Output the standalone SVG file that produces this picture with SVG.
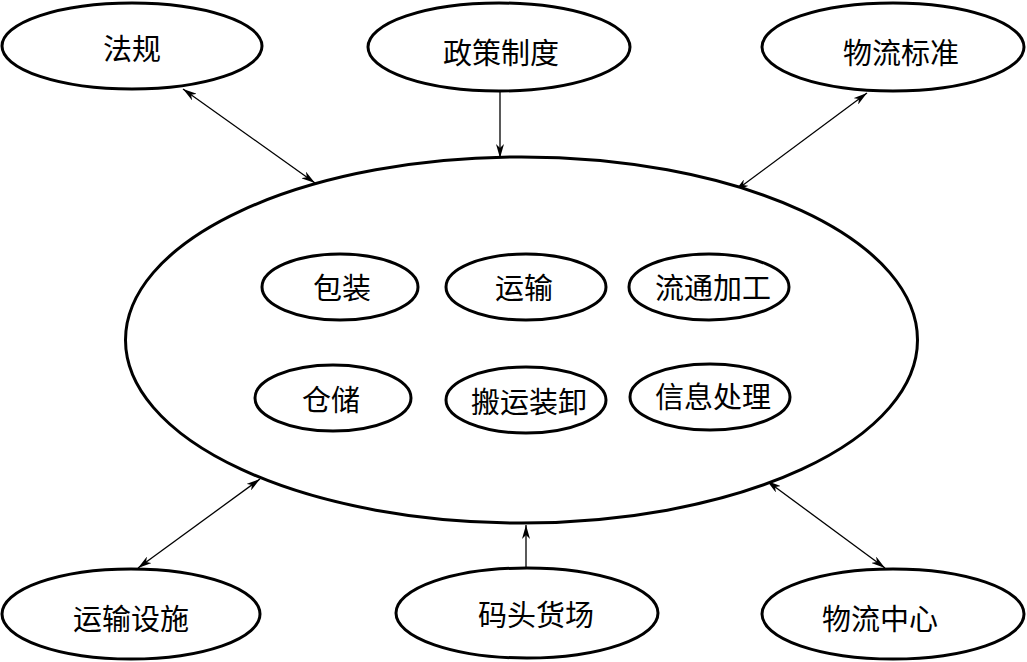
<svg xmlns="http://www.w3.org/2000/svg" width="1027" height="662" viewBox="0 0 1027 662">
<style>
.node ellipse{fill:#fff;stroke:#000;stroke-width:3}
.node text{font-family:"Noto Sans CJK SC","Noto Sans CJK TC",sans-serif;font-size:29px;fill:#000;text-anchor:middle;dominant-baseline:central}
.conn line{stroke:#000;stroke-width:1.3;fill:none}
</style>
<defs>
<marker id="arr" viewBox="0 0 14 8" refX="14" refY="4" markerWidth="14" markerHeight="8" markerUnits="userSpaceOnUse" orient="auto-start-reverse">
<path d="M0,0 L14,4 L0,8 L4,4 z" fill="#000"/>
</marker>
</defs>
<rect width="1027" height="662" fill="#fff"/>
<g id="connectors" class="conn">
<line x1="183" y1="89" x2="315" y2="183" marker-start="url(#arr)" marker-end="url(#arr)"/>
<line x1="500" y1="92" x2="500" y2="158" marker-end="url(#arr)"/>
<line x1="867" y1="93" x2="735" y2="191" marker-start="url(#arr)" marker-end="url(#arr)"/>
<line x1="138" y1="568" x2="260" y2="479" marker-start="url(#arr)" marker-end="url(#arr)"/>
<line x1="526" y1="568" x2="526" y2="525" marker-end="url(#arr)"/>
<line x1="885" y1="568" x2="767" y2="481" marker-start="url(#arr)" marker-end="url(#arr)"/>
</g>
<g id="center" class="node"><ellipse cx="521.5" cy="340" rx="396" ry="183"/></g>
<g id="n-fagui" class="node"><ellipse cx="132" cy="46" rx="130" ry="43"/><text x="132" y="47">法规</text></g>
<g id="n-zhengce" class="node"><ellipse cx="499" cy="47" rx="131" ry="44"/><text x="501" y="51">政策制度</text></g>
<g id="n-biaozhun" class="node"><ellipse cx="893" cy="47" rx="131" ry="44"/><text x="901" y="51">物流标准</text></g>
<g id="n-sheshi" class="node"><ellipse cx="131" cy="614" rx="129" ry="45"/><text x="131" y="617">运输设施</text></g>
<g id="n-matou" class="node"><ellipse cx="527" cy="613" rx="131" ry="45"/><text x="536" y="613">码头货场</text></g>
<g id="n-zhongxin" class="node"><ellipse cx="893" cy="614" rx="131" ry="45"/><text x="880" y="617">物流中心</text></g>
<g id="n-baozhuang" class="node"><ellipse cx="340" cy="287" rx="78" ry="33"/><text x="342" y="286">包装</text></g>
<g id="n-yunshu" class="node"><ellipse cx="526" cy="287" rx="80" ry="33"/><text x="524" y="286">运输</text></g>
<g id="n-liutong" class="node"><ellipse cx="709" cy="287" rx="80" ry="33"/><text x="713" y="286">流通加工</text></g>
<g id="n-cangchu" class="node"><ellipse cx="333" cy="398" rx="78" ry="33"/><text x="331" y="398">仓储</text></g>
<g id="n-banyun" class="node"><ellipse cx="526" cy="400" rx="80" ry="33"/><text x="529" y="400">搬运装卸</text></g>
<g id="n-xinxi" class="node"><ellipse cx="710" cy="397" rx="80" ry="33"/><text x="713" y="395">信息处理</text></g>
</svg>
